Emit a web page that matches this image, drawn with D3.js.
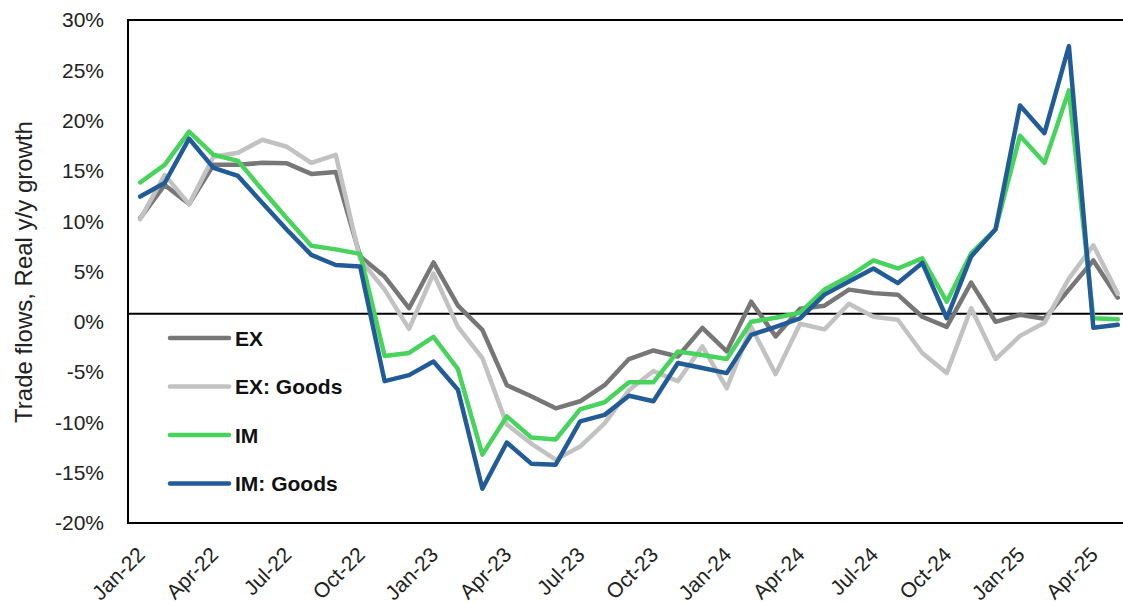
<!DOCTYPE html>
<html>
<head>
<meta charset="utf-8">
<script src="https://cdn.jsdelivr.net/npm/d3@7"></script>
<style>
  body { margin: 0; background: #fff; }
  svg { display: block; font-family: "Liberation Sans", Arial, sans-serif; }
</style>
</head>
<body>
<svg id="svg1" width="1123" height="603"></svg>
<script>
// months on the category axis
var months = ['Jan-22','Feb-22','Mar-22','Apr-22','May-22','Jun-22','Jul-22','Aug-22','Sep-22','Oct-22','Nov-22','Dec-22',
    'Jan-23','Feb-23','Mar-23','Apr-23','May-23','Jun-23','Jul-23','Aug-23','Sep-23','Oct-23','Nov-23','Dec-23',
    'Jan-24','Feb-24','Mar-24','Apr-24','May-24','Jun-24','Jul-24','Aug-24','Sep-24','Oct-24','Nov-24','Dec-24',
    'Jan-25','Feb-25','Mar-25','Apr-25','May-25'];

var tickMonths = ['Jan-22','Apr-22','Jul-22','Oct-22','Jan-23','Apr-23','Jul-23','Oct-23',
    'Jan-24','Apr-24','Jul-24','Oct-24','Jan-25','Apr-25'];

var yTicks = [-20, -15, -10, -5, 0, 5, 10, 15, 20, 25, 30];

var exData = [10.3, 13.6, 11.7, 15.6, 15.6, 15.8, 15.75, 14.7, 14.9, 6.5, 4.5, 1.35,
    5.9, 1.6, -0.8, -6.3, -7.4, -8.6, -7.9, -6.3, -3.7, -2.85, -3.45, -0.6,
    -2.95, 2.0, -1.45, 1.3, 1.6, 3.2, 2.85, 2.7, 0.5, -0.5, 3.9, 0.0,
    0.7, 0.3, 3.2, 6.1, 2.4];

var exGoodsData = [10.2, 14.6, 11.7, 16.4, 16.8, 18.1, 17.4, 15.8, 16.6, 6.2, 3.2, -0.7,
    4.8, -0.5, -3.6, -10.2, -12.1, -13.7, -12.4, -10.1, -6.8, -4.9, -5.9, -2.45,
    -6.6, -0.5, -5.2, -0.2, -0.75, 1.8, 0.5, 0.2, -3.1, -5.1, 1.35, -3.7,
    -1.4, -0.1, 4.3, 7.6, 2.8];

var imData = [13.85, 15.6, 18.9, 16.6, 16.0, 13.1, 10.3, 7.55, 7.2, 6.75, -3.4, -3.1,
    -1.5, -4.7, -13.2, -9.4, -11.5, -11.7, -8.7, -8.0, -6.0, -6.0, -2.95, -3.3,
    -3.7, 0.0, 0.4, 0.9, 3.2, 4.5, 6.1, 5.3, 6.3, 2.0, 6.8, 9.2,
    18.5, 15.8, 23.0, 0.35, 0.25];

var imGoodsData = [12.45, 13.8, 18.2, 15.3, 14.5, 11.8, 9.15, 6.65, 5.65, 5.5, -5.9, -5.3,
    -3.95, -6.75, -16.6, -12.0, -14.1, -14.2, -9.9, -9.25, -7.35, -7.9, -4.1, -4.6,
    -5.1, -1.3, -0.5, 0.35, 2.7, 4.0, 5.3, 3.85, 5.85, 0.35, 6.5, 9.2,
    21.5, 18.75, 27.4, -0.6, -0.3];

var seriesNames = ['EX', 'EX: Goods', 'IM', 'IM: Goods'];
var seriesColors = ['#777777', '#c2c2c2', '#47d35c', '#215c98'];

// horizontal reference line as drawn in the original
var refLineValue = 0.8;

var marginLeft = 128;
var marginTop = 20;
var plotRight = 1130;
var plotBottom = 523;

var svg = d3.select('#svg1');

var x = d3.scalePoint()
    .domain(months)
    .range([marginLeft, plotRight])
    .padding(0.5);

var y = d3.scaleLinear()
    .domain([-20, 30])
    .range([plotBottom, marginTop]);

// y axis labels
svg.append('g')
    .selectAll('text')
    .data(yTicks)
    .enter()
    .append('text')
    .attr('x', 104)
    .attr('y', function(d){ return y(d); })
    .attr('dy', '0.35em')
    .attr('text-anchor', 'end')
    .attr('font-size', 21)
    .attr('fill', '#222')
    .text(function(d){ return d + '%'; });

// x axis labels, rotated
svg.append('g')
    .selectAll('text')
    .data(tickMonths)
    .enter()
    .append('text')
    .attr('transform', function(d){ return 'translate(' + (x(d) + 6) + ',' + (plotBottom + 33) + ') rotate(-45)'; })
    .attr('text-anchor', 'end')
    .attr('font-size', 21)
    .attr('fill', '#222')
    .text(function(d){ return d; });

svg.append('text')
    .attr('transform', 'translate(32,272) rotate(-90)')
    .attr('text-anchor', 'middle')
    .attr('font-size', 24)
    .attr('fill', '#222')
    .text('Trade flows, Real y/y growth');

// plot frame (right side runs past the picture edge)
svg.append('rect')
    .attr('x', marginLeft)
    .attr('y', marginTop)
    .attr('width', plotRight - marginLeft)
    .attr('height', plotBottom - marginTop)
    .attr('fill', 'none')
    .attr('stroke', '#000')
    .attr('stroke-width', 2);

svg.append('line')
    .attr('x1', marginLeft)
    .attr('x2', plotRight)
    .attr('y1', y(refLineValue))
    .attr('y2', y(refLineValue))
    .attr('stroke', '#000')
    .attr('stroke-width', 2);

var line = d3.line()
    .x(function(d, i){ return x(months[i]); })
    .y(function(d){ return y(d); });

var allSeries = [exData, exGoodsData, imData, imGoodsData];

svg.append('g')
    .selectAll('path')
    .data(allSeries)
    .enter()
    .append('path')
    .attr('d', line)
    .attr('fill', 'none')
    .attr('stroke', function(d, i){ return seriesColors[i]; })
    .attr('stroke-width', 4.5)
    .attr('stroke-linejoin', 'round')
    .attr('stroke-linecap', 'round');

// legend
var legend = svg.append('g')
    .selectAll('g')
    .data(seriesNames)
    .enter()
    .append('g')
    .attr('transform', function(d, i){ return 'translate(170,' + (338 + i * 48.5) + ')'; });

legend.append('line')
    .attr('x1', 0)
    .attr('x2', 59)
    .attr('stroke', function(d, i){ return seriesColors[i]; })
    .attr('stroke-width', 4.5)
    .attr('stroke-linecap', 'round');

legend.append('text')
    .attr('x', 65)
    .attr('dy', '0.36em')
    .attr('font-size', 21)
    .attr('font-weight', 'bold')
    .attr('fill', '#111')
    .text(function(d){ return d; });
</script>
</body>
</html>
